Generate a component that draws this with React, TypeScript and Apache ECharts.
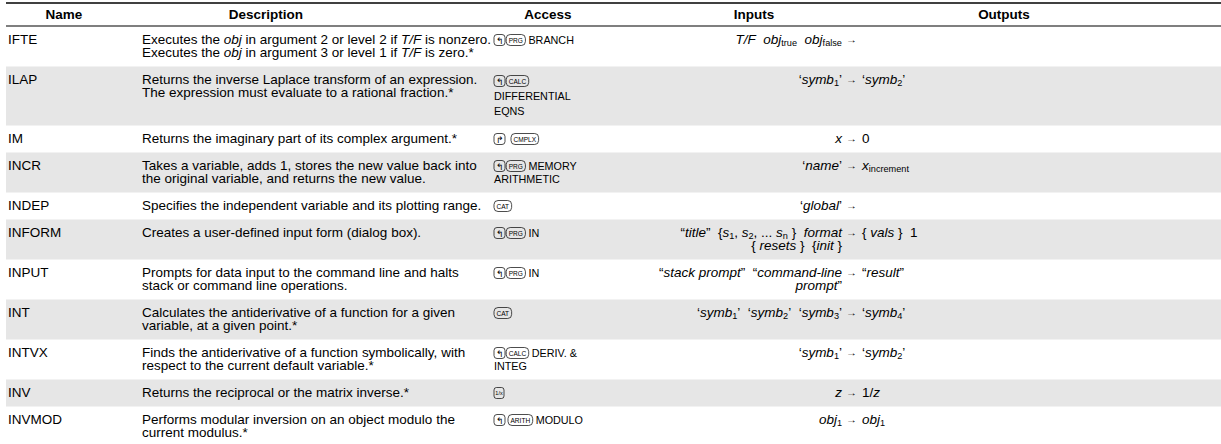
import React, { useEffect, useRef } from "react";
import * as echarts from "echarts";

const FONT = '"Liberation Sans", Arial, Helvetica, sans-serif';

// ---------- data ----------
const headers = ["Name", "Description", "Access", "Inputs", "Outputs"];
const names = ["IFTE", "ILAP", "IM", "INCR", "INDEP", "INFORM", "INPUT", "INT", "INTVX", "INV", "INVMOD"];
// ⟨…⟩ = italic, ⟦…⟧ = subscript
const descriptions: string[][] = [
  ["Executes the ⟨obj⟩ in argument 2 or level 2 if ⟨T/F⟩ is nonzero.", "Executes the ⟨obj⟩ in argument 3 or level 1 if ⟨T/F⟩ is zero.*"],
  ["Returns the inverse Laplace transform of an expression.", "The expression must evaluate to a rational fraction.*"],
  ["Returns the imaginary part of its complex argument.*"],
  ["Takes a variable, adds 1, stores the new value back into", "the original variable, and returns the new value."],
  ["Specifies the independent variable and its plotting range."],
  ["Creates a user-defined input form (dialog box)."],
  ["Prompts for data input to the command line and halts", "stack or command line operations."],
  ["Calculates the antiderivative of a function for a given", "variable, at a given point.*"],
  ["Finds the antiderivative of a function symbolically, with", "respect to the current default variable.*"],
  ["Returns the reciprocal or the matrix inverse.*"],
  ["Performs modular inversion on an object modulo the", "current modulus.*"],
];
// [KEY] = calculator key
const access: string[][] = [
  ["[LS][PRG] BRANCH"],
  ["[LS][CALC]", "DIFFERENTIAL", "EQNS"],
  ["[RS]  [CMPLX]"],
  ["[LS][PRG] MEMORY", "ARITHMETIC"],
  ["[CAT]"],
  ["[LS][PRG] IN"],
  ["[LS][PRG] IN"],
  ["[CAT]"],
  ["[LS][CALC] DERIV. &", "INTEG"],
  ["[INV]"],
  ["[LS] [ARITH] MODULO"],
];
const inputs: string[][] = [
  ["⟨T/F⟩  ⟨obj⟩⟦true⟧  ⟨obj⟩⟦false⟧"],
  ["‘⟨symb⟩⟦1⟧’"],
  ["⟨x⟩"],
  ["‘⟨name⟩’"],
  ["‘⟨global⟩’"],
  ["“⟨title⟩”  {⟨s⟩⟦1⟧, ⟨s⟩⟦2⟧, ... ⟨s⟩⟦n⟧ }  ⟨format⟩", "{ ⟨resets⟩ }  {⟨init⟩ }"],
  ["“⟨stack prompt⟩”  “⟨command-line⟩", "⟨prompt⟩”"],
  ["‘⟨symb⟩⟦1⟧’  ‘⟨symb⟩⟦2⟧’  ‘⟨symb⟩⟦3⟧’"],
  ["‘⟨symb⟩⟦1⟧’"],
  ["⟨z⟩"],
  ["⟨obj⟩⟦1⟧"],
];
const outputs: string[][] = [
  [],
  ["‘⟨symb⟩⟦2⟧’"],
  ["0"],
  ["⟨x⟩⟦increment⟧"],
  [],
  ["{ ⟨vals⟩ }  1"],
  ["“⟨result⟩”"],
  ["‘⟨symb⟩⟦4⟧’"],
  ["‘⟨symb⟩⟦2⟧’"],
  ["1/⟨z⟩"],
  ["⟨obj⟩⟦1⟧"],
];
const keyLabels: Record<string, string> = {
  PRG: "PRG", CALC: "CALC", CMPLX: "CMPLX", CAT: "CAT", ARITH: "ARITH",
};

// ---------- layout ----------
const W = 1221;
const H = 444;
const SX = 1.08;
const FS = 12.5;
const SUB_FS = 8.5;
const ACC_FS = 10;
const PITCH = 13;
const PAD = 7;
const TOP_RULE_Y = 3;
const HEADER_Y = 14.5;
const HEADER_RULE_Y = 26;
const NAME_X = 8;
const DESC_X = 142;
const ACCESS_X = 494;
const INPUT_RIGHT = 842;
const ARROW_X = 846;
const OUTPUT_X = 862;
const HEADER_CENTERS = [64, 266, 548, 754, 1004];
const GREY = "#e6e6e6";

let ctx: CanvasRenderingContext2D | null = null;
function rawMeasure(text: string, size: number, italic = false, bold = false): number {
  if (!ctx) ctx = document.createElement("canvas").getContext("2d");
  if (!ctx) return text.length * size * 0.5;
  ctx.font = `${italic ? "italic " : ""}${bold ? "bold " : ""}${size}px ${FONT}`;
  return ctx.measureText(text).width;
}
const measure = (t: string, s: number, i = false, b = false) => rawMeasure(t, s, i, b) * SX;

function txt(text: string, x: number, y: number, size: number, o: { italic?: boolean; bold?: boolean; sx?: number } = {}) {
  return {
    type: "text",
    x,
    y,
    scaleX: o.sx ?? SX,
    silent: true,
    z: 10,
    style: {
      text,
      fontSize: size,
      fontFamily: FONT,
      fontStyle: o.italic ? "italic" : "normal",
      fontWeight: o.bold ? "bold" : "normal",
      fill: "#000",
      align: "left",
      textAlign: "left",
      verticalAlign: "middle",
      textVerticalAlign: "middle",
    },
  };
}

type Tok = { t: string; k: "n" | "i" | "s" };
function parseRich(s: string): Tok[] {
  const re = /⟨([^⟩]*)⟩|⟦([^⟧]*)⟧|([^⟨⟦]+)/g;
  const out: Tok[] = [];
  let m: RegExpExecArray | null;
  while ((m = re.exec(s))) {
    if (m[1] !== undefined) out.push({ t: m[1], k: "i" });
    else if (m[2] !== undefined) out.push({ t: m[2], k: "s" });
    else out.push({ t: m[3], k: "n" });
  }
  return out;
}
function tokSize(k: Tok["k"]) {
  return k === "s" ? SUB_FS : FS;
}
function richWidth(s: string) {
  return parseRich(s).reduce((a, tk) => a + measure(tk.t, tokSize(tk.k), tk.k === "i"), 0);
}
function drawRich(els: any[], s: string, x: number, y: number, align: "left" | "right") {
  let cx = align === "right" ? x - richWidth(s) : x;
  for (const tk of parseRich(s)) {
    const size = tokSize(tk.k);
    const it = tk.k === "i";
    const parts = tk.t.split(/(\s+)/);
    for (const p of parts) {
      if (!p) continue;
      const w = measure(p, size, it);
      if (!/^\s+$/.test(p)) els.push(txt(p, cx, tk.k === "s" ? y + 3 : y, size, { italic: it }));
      cx += w;
    }
  }
}

function drawKey(els: any[], key: string, x: number, y: number): number {
  const h = 11;
  const stroke = { fill: "none", stroke: "#000", lineWidth: 0.7 };
  if (key === "LS" || key === "RS") {
    const w = 11;
    els.push({ type: "rect", silent: true, z: 10, shape: { x, y: y - h / 2, width: w, height: h, r: 3 }, style: stroke });
    const g = key === "LS" ? "↰" : "↱";
    const gw = rawMeasure(g, 8.5);
    els.push(txt(g, x + w / 2 - gw / 2, y + 0.5, 8.5, { sx: 1 }));
    return w;
  }
  if (key === "INV") {
    const w = 10;
    els.push({ type: "rect", silent: true, z: 10, shape: { x, y: y - h / 2, width: w, height: h, r: 2.5 }, style: stroke });
    const lbl = "1/x";
    const lw = rawMeasure(lbl, 5.5);
    els.push(txt(lbl, x + w / 2 - lw / 2, y, 5.5, { sx: 1 }));
    return w;
  }
  const lbl = keyLabels[key] ?? key;
  const cond = 0.82;
  const lw = rawMeasure(lbl, 8) * cond;
  const w = lw + 5;
  els.push({ type: "rect", silent: true, z: 10, shape: { x, y: y - h / 2, width: w, height: h, r: 4 }, style: stroke });
  els.push(txt(lbl, x + 2.5, y + 0.3, 8, { sx: cond }));
  return w;
}

function drawAccess(els: any[], s: string, x: number, y: number) {
  const re = /\[(\w+)\]|([^\[]+)/g;
  let cx = x;
  let m: RegExpExecArray | null;
  let prevKey = false;
  while ((m = re.exec(s))) {
    if (m[1] !== undefined) {
      if (prevKey) cx += 1.2;
      cx += drawKey(els, m[1], cx, y);
      prevKey = true;
    } else {
      prevKey = false;
      const parts = m[2].split(/(\s+)/);
      for (const p of parts) {
        if (!p) continue;
        const w = measure(p, ACC_FS);
        if (!/^\s+$/.test(p)) els.push(txt(p, cx, y + 0.5, ACC_FS));
        cx += w;
      }
    }
  }
}

function buildElements() {
  const els: any[] = [];
  const back: any[] = [];
  back.push({ type: "line", silent: true, z: 5, shape: { x1: 6, y1: TOP_RULE_Y, x2: W, y2: TOP_RULE_Y }, style: { stroke: "#000", lineWidth: 1.6 } });
  back.push({ type: "line", silent: true, z: 5, shape: { x1: 6, y1: HEADER_RULE_Y, x2: W, y2: HEADER_RULE_Y }, style: { stroke: "#000", lineWidth: 1.1 } });
  headers.forEach((hname, i) => {
    const w = measure(hname, FS, false, true);
    els.push(txt(hname, HEADER_CENTERS[i] - w / 2, HEADER_Y, FS, { bold: true }));
  });
  let top = HEADER_RULE_Y + 0.5;
  names.forEach((nm, r) => {
    const n = Math.max(descriptions[r].length, access[r].length, inputs[r].length, outputs[r].length, 1);
    const h = n * PITCH + 2 * PAD + (n >= 3 ? 6 : 0);
    if (r % 2 === 1) {
      back.push({ type: "rect", silent: true, z: 1, shape: { x: 6, y: top, width: W - 6, height: h }, style: { fill: GREY } });
    }
    const lineY = (i: number) => top + PAD + PITCH * (i + 0.5);
    els.push(txt(nm, NAME_X, lineY(0), FS));
    descriptions[r].forEach((d, i) => drawRich(els, d, DESC_X, lineY(i), "left"));
    const aPitch = access[r].length >= 3 ? (h - 2 * PAD) / access[r].length : PITCH;
    access[r].forEach((a, i) => drawAccess(els, a, ACCESS_X, top + PAD + aPitch * (i + 0.5)));
    inputs[r].forEach((s, i) => drawRich(els, s, INPUT_RIGHT, lineY(i), "right"));
    els.push(txt("→", ARROW_X, lineY(0), 10));
    outputs[r].forEach((s, i) => drawRich(els, s, OUTPUT_X, lineY(i), "left"));
    top += h;
  });
  return [...back, ...els];
}

export default function App() {
  const ref = useRef<HTMLDivElement>(null);
  useEffect(() => {
    if (!ref.current) return;
    const chart = echarts.init(ref.current, undefined, { renderer: "svg" });
    chart.setOption({
      animation: false,
      backgroundColor: "#ffffff",
      graphic: { elements: buildElements() },
    });
    return () => chart.dispose();
  }, []);
  return (
    <div
      ref={ref}
      style={{ position: "fixed", left: 0, top: 0, width: W, height: H, background: "#fff" }}
    />
  );
}
